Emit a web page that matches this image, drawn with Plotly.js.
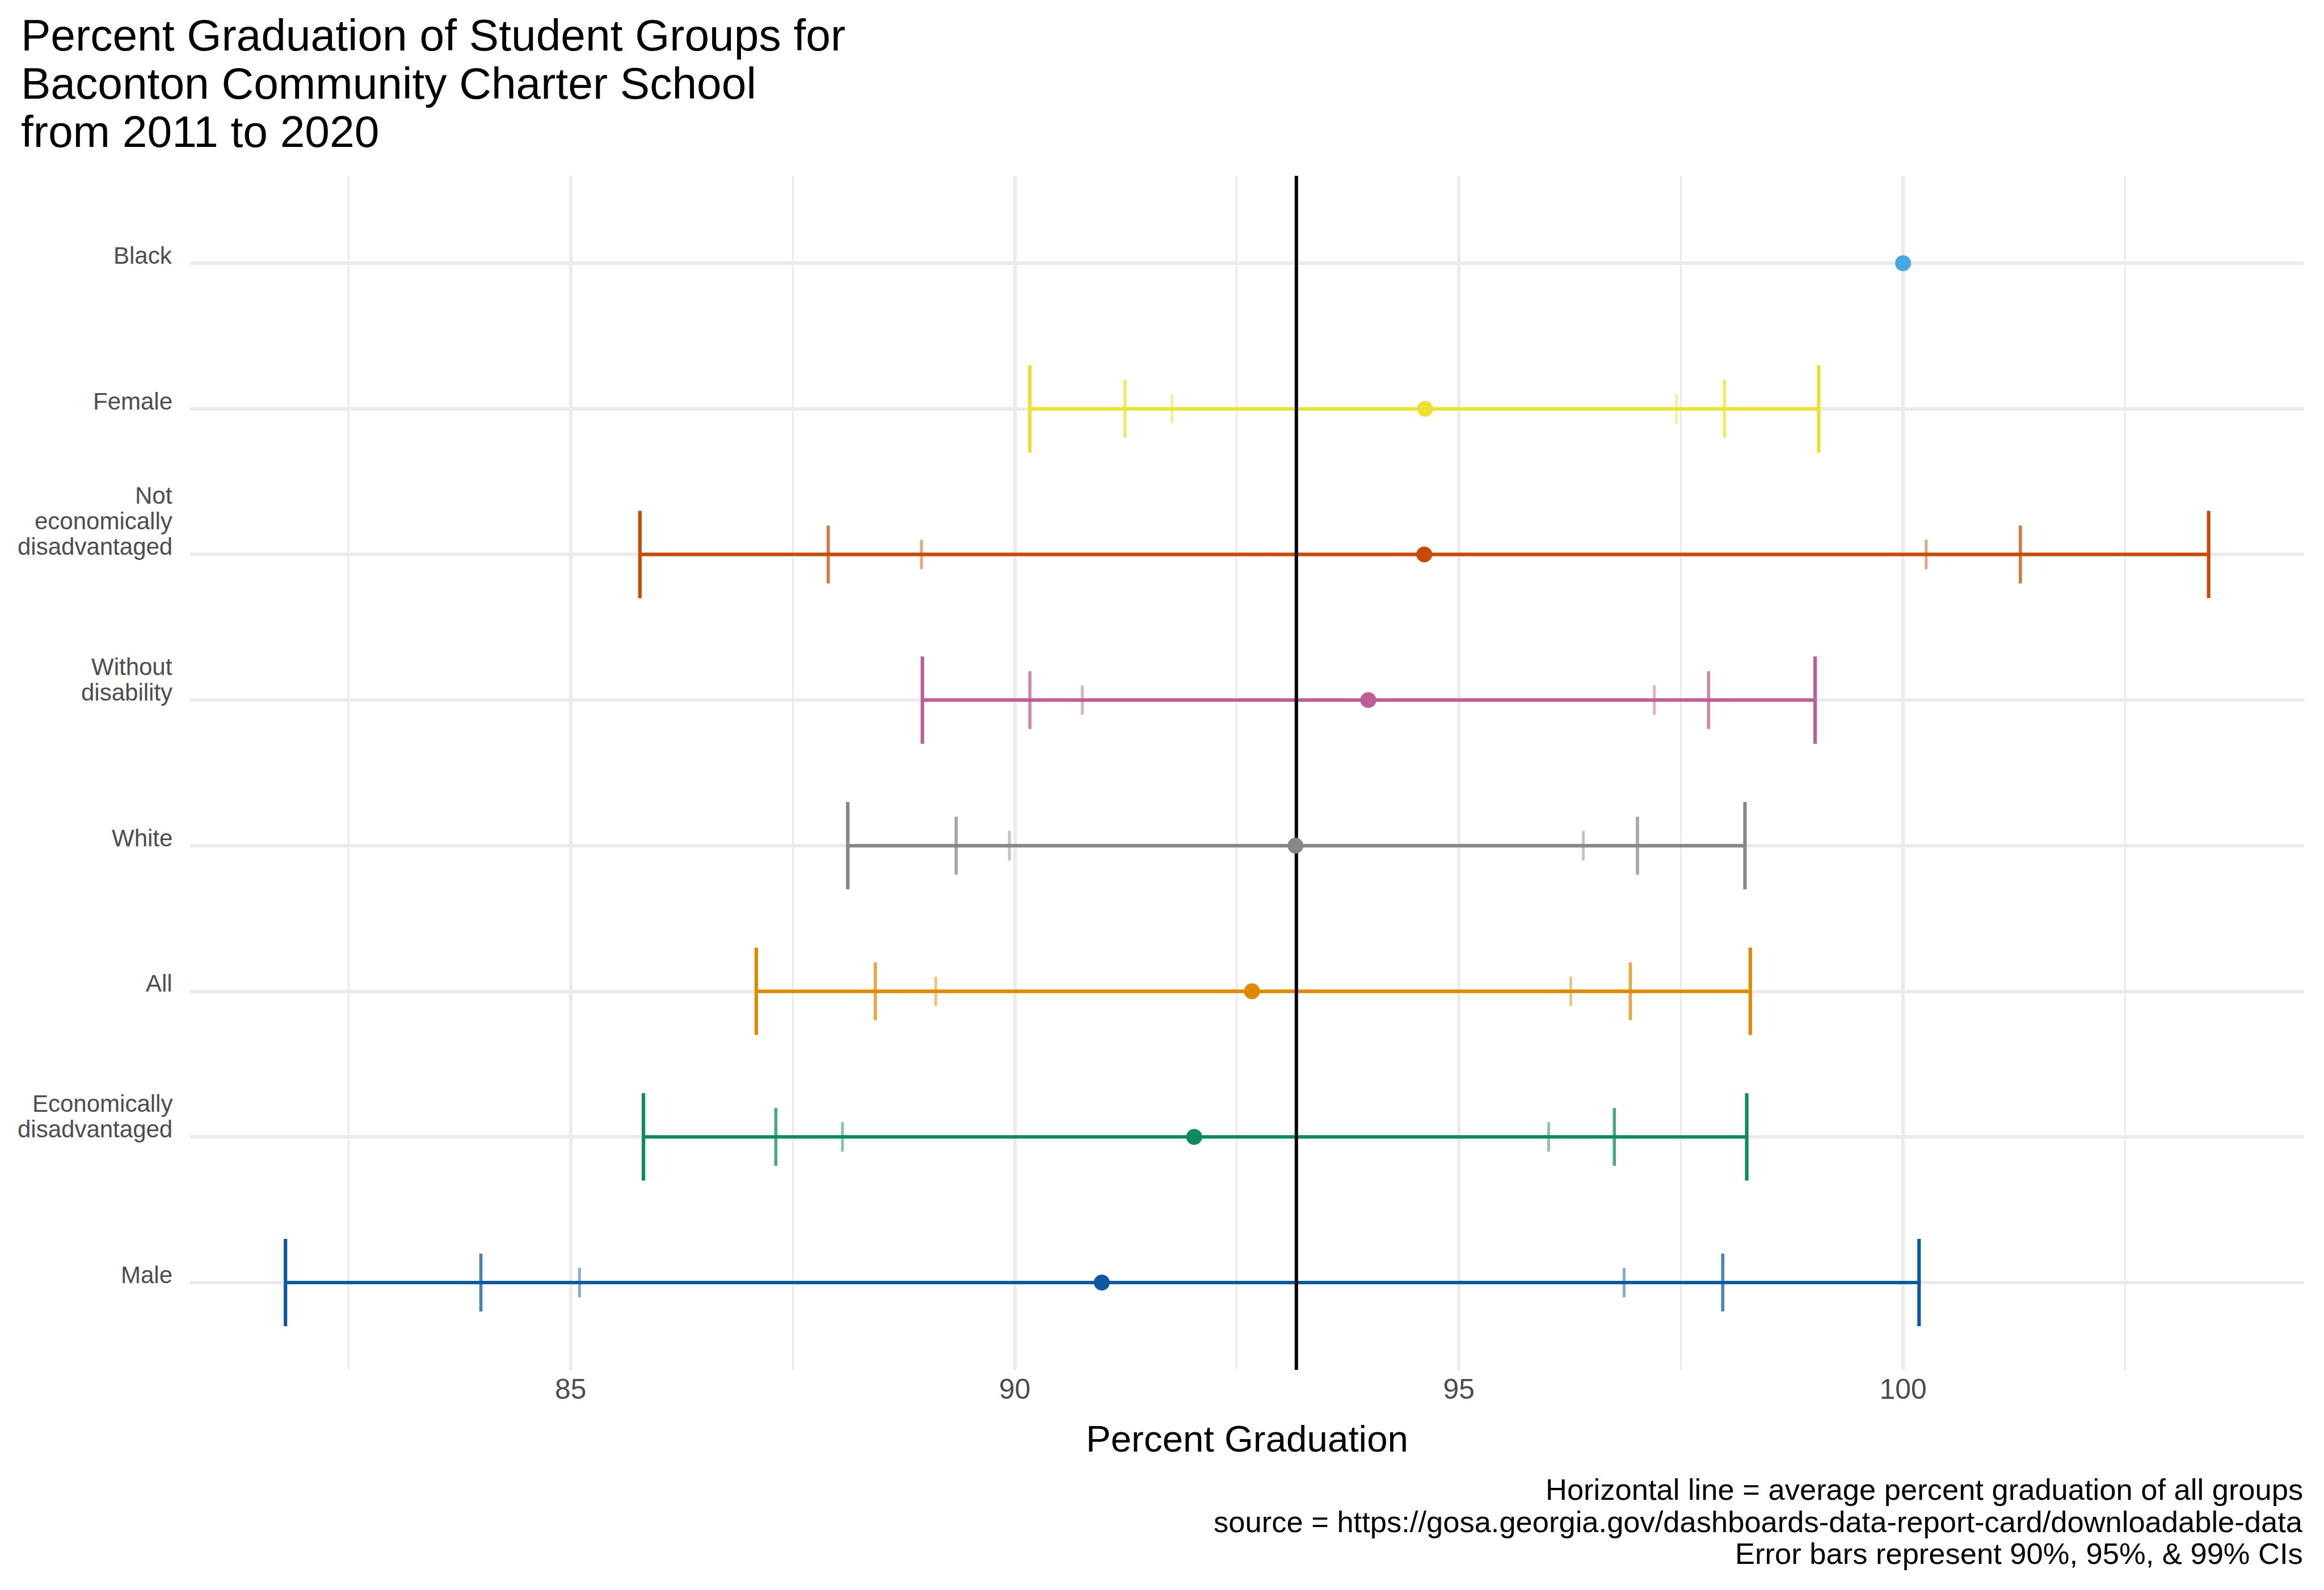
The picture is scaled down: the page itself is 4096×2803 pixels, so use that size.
<!DOCTYPE html>
<html>
<head>
<meta charset="utf-8">
<script src="https://cdn.plot.ly/plotly-3.0.1.min.js"></script>
<style>html,body{margin:0;padding:0;background:#fff;}#chart{width:4096px;height:2803px;}</style>
</head>
<body>
<div id="chart"></div>
<script>
// ---- data (top to bottom order) ----
const groups = ["Black", "Female", "Not\neconomically\ndisadvantaged", "Without\ndisability", "White", "All", "Economically\ndisadvantaged", "Male"];
const estimate = [100.0, 94.62, 94.61, 93.98, 93.16, 92.67, 92.02, 90.98];
const lo90 = [null, 91.77, 88.95, 90.76, 89.94, 89.11, 88.06, 85.10];
const hi90 = [null, 97.45, 100.26, 97.20, 96.40, 96.26, 96.01, 96.86];
const lo95 = [null, 91.24, 87.90, 90.17, 89.34, 88.43, 87.31, 83.99];
const hi95 = [null, 97.99, 101.32, 97.81, 97.01, 96.93, 96.75, 97.97];
const lo99 = [null, 90.17, 85.78, 88.96, 88.12, 87.09, 85.82, 81.79];
const hi99 = [null, 99.05, 103.44, 99.01, 98.22, 98.28, 98.24, 100.18];
const avgLine = 93.17;
const colors = ["#4AA7E3", "#ECE133", "#C84B05", "#BD5F96", "#878787", "#DE8A05", "#0F8A5D", "#0E5AA0"];
const xTickVals = [85, 90, 95, 100];
const titleLines = ["Percent Graduation of Student Groups for", "Baconton Community Charter School", "from 2011 to 2020"];
const captionLines = ["Horizontal line = average percent graduation of all groups", "source = https://gosa.georgia.gov/dashboards-data-report-card/downloadable-data", "Error bars represent 90%, 95%, & 99% CIs"];
const xTitle = "Percent Graduation";

// ---- layout constants ----
const W = 4096, H = 2803;
const ML = 335, MR = 35, MT = 310, MB = 388;
const plotW = W - ML - MR, plotH = H - MT - MB;
const plotBottom = H - MB;
const FONT = "Liberation Sans, Arial, Helvetica, sans-serif";
const xRange = [80.716, 104.515];
const yRange = [-0.6, groups.length - 1 + 0.6];
const DESC = 0.212;

function hexA(hex, a) {
  const r = parseInt(hex.slice(1,3),16), g = parseInt(hex.slice(3,5),16), b = parseInt(hex.slice(5,7),16);
  return `rgba(${r},${g},${b},${a})`;
}

const n = groups.length;
const ypos = groups.map((g, i) => n - 1 - i);

const traces = [];
const levels = [
  {lo: lo99, hi: hi99, alpha: 1.0, thick: 6.2, width: 77},
  {lo: lo95, hi: hi95, alpha: 0.75, thick: 5.6, width: 51},
  {lo: lo90, hi: hi90, alpha: 0.5, thick: 5.0, width: 26}
];
levels.forEach(lv => {
  groups.forEach((g, i) => {
    if (lv.lo[i] === null) return;
    traces.push({
      type: 'scatter', mode: 'markers',
      x: [estimate[i]], y: [ypos[i]],
      marker: {size: 1, opacity: 0},
      error_x: {type: 'data', symmetric: false,
        array: [lv.hi[i] - estimate[i]], arrayminus: [estimate[i] - lv.lo[i]],
        color: hexA(colors[i], lv.alpha), thickness: lv.thick, width: lv.width},
      hoverinfo: 'skip', showlegend: false
    });
  });
});

// average vertical line
traces.push({
  type: 'scatter', mode: 'lines',
  x: [avgLine, avgLine], y: yRange,
  line: {color: '#000000', width: 6},
  hoverinfo: 'skip', showlegend: false
});

// points
traces.push({
  type: 'scatter', mode: 'markers',
  x: estimate, y: ypos,
  marker: {size: 28, color: colors, line: {width: 0}},
  showlegend: false
});

const annotations = [];
// y category labels (bottom aligned at gridline)
const YL_SIZE = 42, YL_SPACING = 45.4;
groups.forEach((g, i) => {
  const lines = g.split("\n");
  lines.forEach((ln, j) => {
    annotations.push({
      xref: 'paper', yref: 'y', x: 0, y: ypos[i],
      xanchor: 'right', yanchor: 'bottom', align: 'right',
      xshift: -31.5, yshift: (lines.length - 1 - j) * YL_SPACING - DESC * YL_SIZE - 1,
      text: ln, showarrow: false, borderpad: 0, borderwidth: 0,
      font: {family: FONT, size: YL_SIZE, color: '#4D4D4D'}
    });
  });
});

function pxToPaperX(px) { return (px - ML) / plotW; }
function baselineToPaperY(base, size) { return (plotBottom - (base + DESC * size)) / plotH; }

// title lines
const T_SIZE = 78.5, T_BASE = 89, T_SPACING = 85;
titleLines.forEach((ln, j) => {
  annotations.push({
    xref: 'paper', yref: 'paper', x: pxToPaperX(37), y: baselineToPaperY(T_BASE + j * T_SPACING, T_SIZE),
    xanchor: 'left', yanchor: 'bottom', align: 'left',
    text: ln, showarrow: false, borderpad: 0, borderwidth: 0,
    font: {family: FONT, size: T_SIZE, color: '#000000'}
  });
});

// caption lines
const C_SIZE = 52.5, C_BASE = 2644, C_SPACING = 56.5;
captionLines.forEach((ln, j) => {
  annotations.push({
    xref: 'paper', yref: 'paper', x: pxToPaperX(4059), y: baselineToPaperY(C_BASE + j * C_SPACING, C_SIZE),
    xanchor: 'right', yanchor: 'bottom', align: 'right',
    text: ln, showarrow: false, borderpad: 0, borderwidth: 0,
    font: {family: FONT, size: C_SIZE, color: '#000000'}
  });
});

const layout = {
  width: W, height: H,
  margin: {l: ML, r: MR, t: MT, b: MB, pad: 0},
  paper_bgcolor: '#ffffff', plot_bgcolor: '#ffffff',
  font: {family: FONT, color: '#000000'},
  showlegend: false,
  xaxis: {
    range: xRange, tickmode: 'array', tickvals: xTickVals, ticktext: xTickVals.map(String),
    showgrid: true, gridcolor: '#EBEBEB', gridwidth: 6,
    minor: {tickmode: 'linear', tick0: 0, dtick: 2.5, showgrid: true, gridcolor: '#EBEBEB', gridwidth: 3, ticks: ''},
    zeroline: false, showline: false, ticks: '',
    tickfont: {family: FONT, size: 50, color: '#4D4D4D'},
    ticklabelstandoff: 0,
    title: {text: xTitle, font: {family: FONT, size: 65.5, color: '#000000'}, standoff: 37},
    automargin: false, fixedrange: true
  },
  yaxis: {
    range: yRange, tickmode: 'array', tickvals: ypos, showticklabels: false,
    showgrid: true, gridcolor: '#EBEBEB', gridwidth: 6,
    zeroline: false, showline: false, ticks: '',
    automargin: false, fixedrange: true
  },
  annotations: annotations
};

Plotly.newPlot('chart', traces, layout, {staticPlot: true, displayModeBar: false});
</script>
</body>
</html>
